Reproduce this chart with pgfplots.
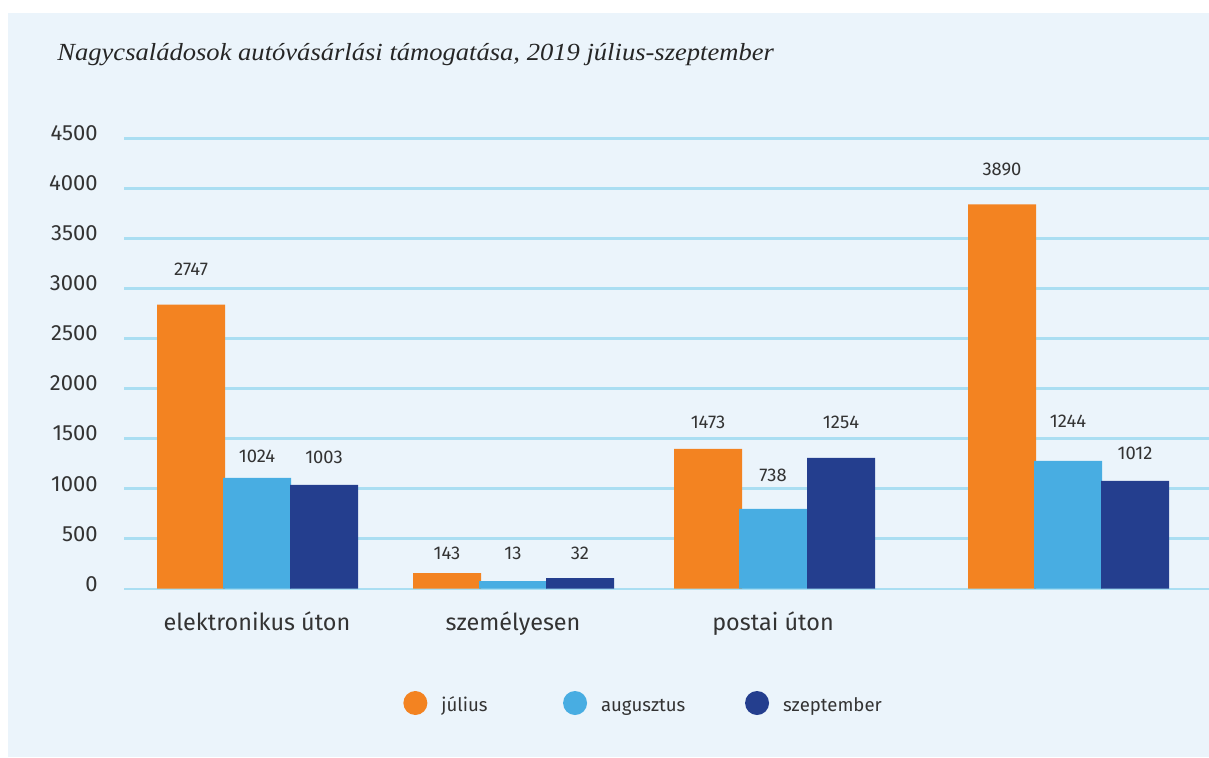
\documentclass[border=0pt]{standalone}
\usepackage{pgfplots}
\pgfplotsset{compat=1.18}
\usepackage{fontspec}
\setmainfont{Fira Sans}
\newfontfamily\titlefont[FakeStretch=1.08]{Liberation Serif}
\definecolor{bg}{RGB}{235,244,251}
\definecolor{gridc}{RGB}{170,222,242}
\definecolor{jul}{RGB}{243,131,33}
\definecolor{aug}{RGB}{72,173,226}
\definecolor{szep}{RGB}{36,62,142}
\definecolor{txt}{RGB}{51,51,51}
\pgfplotsset{dot legend/.style={legend image code/.code={\fill[##1] (0pt,4.2pt) circle (6pt);}}}
\begin{document}
\begin{tikzpicture}
\useasboundingbox (0,0) rectangle (604.5pt,378.5pt);
\fill[white] (0,0) rectangle (604.5pt,378.5pt);
\fill[bg] (4pt,0) rectangle (604.5pt,372pt);
\node[anchor=base west, inner sep=0pt, font=\titlefont\itshape\fontsize{12.3}{14}\selectfont, text=black!85] at (28.5pt,348.5pt) {Nagycsaládosok autóvásárlási támogatása, 2019 július-szeptember};
\begin{axis}[
  at={(62pt,84.15pt)}, anchor=south west,
  scale only axis, width=542.5pt, height=225.1pt,
  xmin=124, xmax=1209, ymin=0, ymax=4500,
  clip=false,
  axis line style={draw=none},
  tick style={draw=none},
  ymajorgrids, grid style={line width=1.2pt, gridc},
  ytick={0,500,...,4500},
  xtick={257,513,773},
  xticklabels={elektronikus úton, személyesen, postai úton},
  /pgf/number format/1000 sep={},
  /pgf/number format/assume math mode=true,
  yticklabel style={anchor=east, inner sep=0pt, xshift=-13pt, yshift=2.5pt, font=\fontsize{11}{13}\selectfont, text=txt},
  xticklabel style={anchor=base, inner sep=0pt, yshift=-20.7pt, font=\fontsize{11.7}{13}\selectfont, text=txt},
  legend style={at={(axis description cs:0.2571,-0.2539)}, anchor=west, draw=none, fill=none, inner sep=0pt,
    font=\fontsize{9.3}{11}\selectfont, text=txt,
    nodes={inner sep=0pt, anchor=base west},
    /tikz/every odd column/.append style={column sep=7pt}},
  legend columns=3,
]
\addplot[ybar, bar width=68, bar shift=0pt, fill=jul, draw=none, dot legend] coordinates {(191,2840) (447,157) (708,1398) (1002,3841)};
\addlegendentry{\makebox[60.85pt][l]{július}}
\addplot[ybar, bar width=68, bar shift=0pt, fill=aug, draw=none, dot legend] coordinates {(257,1108) (513,77) (773,798) (1068,1278)};
\addlegendentry{\makebox[72pt][l]{augusztus}}
\addplot[ybar, bar width=68, bar shift=0pt, fill=szep, draw=none, dot legend] coordinates {(324,1038) (580,107) (841,1308) (1135,1078)};
\addlegendentry{szeptember}
\addplot[only marks, mark=none, forget plot,
  nodes near coords, point meta=explicit symbolic, nodes near coords align={center},
  every node near coord/.append style={anchor=center, inner sep=0pt, font=\fontsize{9.2}{11}\selectfont, text=txt}]
table[meta=l]{
x y l
191 3190 2747
257 1318 1024
324 1308 1003
447 352 143
513 352 13
580 352 32
708 1659 1473
773 1133 738
841 1659 1254
1002 4191 3890
1068 1674 1244
1135 1348 1012
};
\end{axis}
\end{tikzpicture}
\end{document}
